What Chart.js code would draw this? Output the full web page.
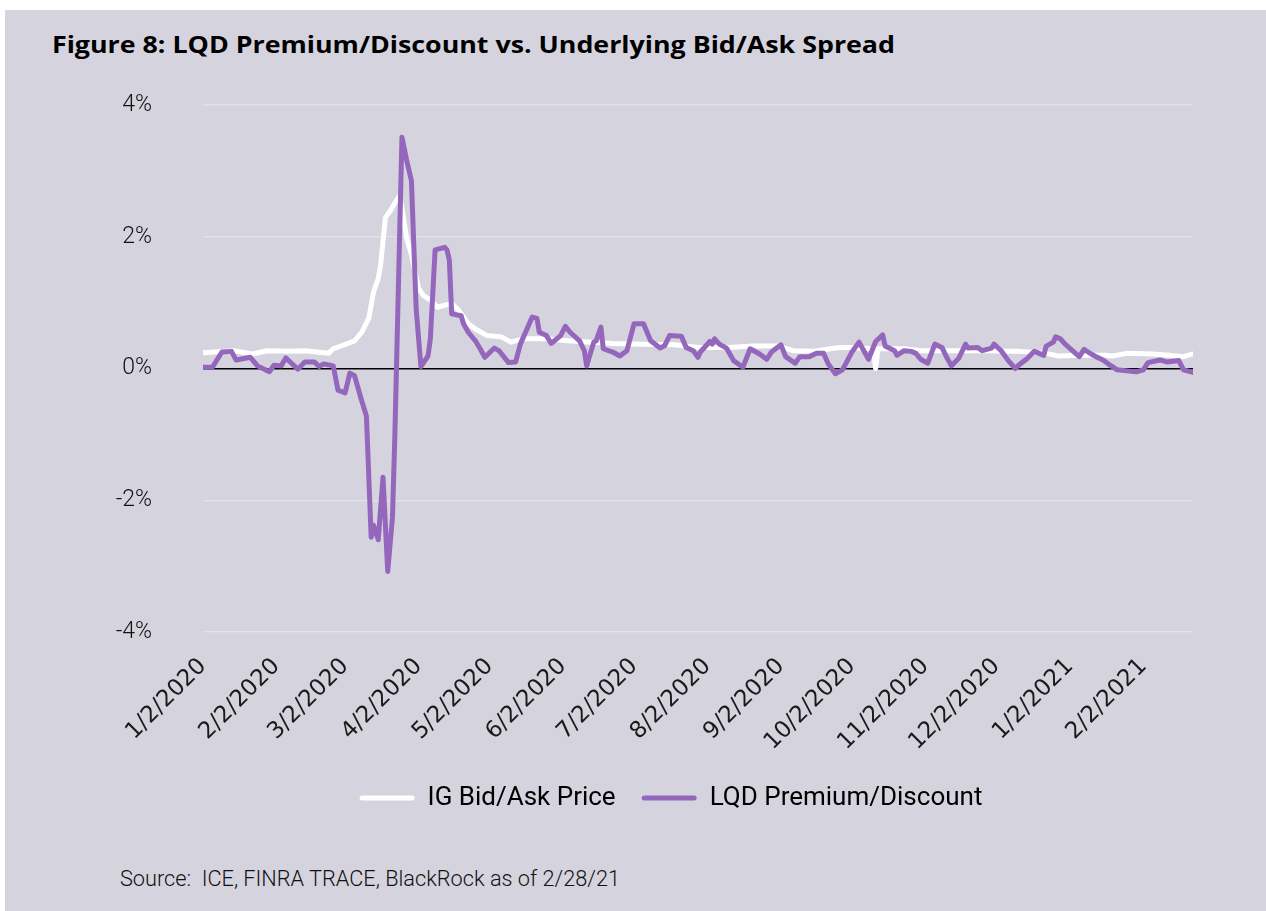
<!DOCTYPE html>
<html><head><meta charset="utf-8">
<script src="https://cdn.jsdelivr.net/npm/chart.js@4.4.1/dist/chart.umd.min.js"></script>
<style>
html,body{margin:0;padding:0;background:#fff;width:1266px;height:911px;overflow:hidden;}
#panel{position:absolute;left:5px;top:10px;right:0;bottom:0;background:#d5d4de;}
#title{position:absolute;left:52px;top:30px;font-family:'Open Sans';font-weight:700;font-size:23px;color:#000;white-space:pre;transform-origin:0 0;line-height:1.3;}
#source{position:absolute;left:120px;top:866px;font-family:Roboto;font-weight:300;font-size:22px;color:#111;white-space:pre;transform-origin:0 0;line-height:1.2;}
#wrap{position:absolute;left:0;top:0;width:1266px;height:911px;}
</style></head><body>
<div id="panel"></div>
<div id="title">Figure 8: LQD Premium/Discount vs. Underlying Bid/Ask Spread</div>
<div id="source">Source:  ICE, FINRA TRACE, BlackRock as of 2/28/21</div>
<div id="wrap"><canvas id="c" width="1266" height="911"></canvas></div>
<script>
const seriesNames = ['IG Bid/Ask Price', 'LQD Premium/Discount'];
const startDate = '2020-01-02';
const endDate = '2021-02-23';
const tickDates = ['2020-01-02','2020-02-02','2020-03-02','2020-04-02','2020-05-02','2020-06-02','2020-07-02','2020-08-02','2020-09-02','2020-10-02','2020-11-02','2020-12-02','2021-01-02','2021-02-02'];
const tickLabels = ['1/2/2020','2/2/2020','3/2/2020','4/2/2020','5/2/2020','6/2/2020','7/2/2020','8/2/2020','9/2/2020','10/2/2020','11/2/2020','12/2/2020','1/2/2021','2/2/2021'];
const yMin = -4, yMax = 4, yStep = 2;

const igDates = ['2020-01-02','2020-01-15','2020-01-23','2020-01-29','2020-02-07','2020-02-14','2020-02-24','2020-02-26','2020-03-01','2020-03-06','2020-03-09','2020-03-12','2020-03-14','2020-03-16','2020-03-17','2020-03-19','2020-03-21','2020-03-24','2020-03-25','2020-03-26','2020-03-28','2020-03-30','2020-04-02','2020-04-04','2020-04-07','2020-04-10','2020-04-16','2020-04-19','2020-04-23','2020-04-26','2020-05-01','2020-05-07','2020-05-10','2020-05-11','2020-05-16','2020-05-26','2020-06-04','2020-06-09','2020-06-23','2020-07-05','2020-07-19','2020-07-29','2020-08-11','2020-08-21','2020-09-01','2020-09-07','2020-09-15','2020-09-23','2020-09-27','2020-10-02','2020-10-10','2020-10-11','2020-10-12','2020-10-13','2020-10-14','2020-10-24','2020-10-31','2020-11-14','2020-11-28','2020-12-07','2020-12-12','2020-12-23','2020-12-28','2021-01-09','2021-01-17','2021-01-20','2021-01-26','2021-02-06','2021-02-13','2021-02-19','2021-02-23'];
const igValues = [0.24,0.27,0.22,0.27,0.26,0.27,0.23,0.30,0.35,0.42,0.55,0.76,1.16,1.37,1.57,2.29,2.39,2.57,2.62,2.44,1.98,1.73,1.22,1.11,1.04,0.93,0.99,0.88,0.68,0.60,0.50,0.48,0.42,0.40,0.45,0.45,0.42,0.41,0.38,0.37,0.36,0.32,0.32,0.34,0.34,0.27,0.26,0.30,0.32,0.32,0.30,0.30,0.00,0.30,0.30,0.30,0.27,0.27,0.27,0.26,0.26,0.23,0.19,0.20,0.20,0.19,0.23,0.22,0.20,0.18,0.22];

const lqdDates = ['2020-01-02','2020-01-06','2020-01-10','2020-01-14','2020-01-16','2020-01-22','2020-01-25','2020-01-30','2020-02-01','2020-02-04','2020-02-06','2020-02-11','2020-02-14','2020-02-18','2020-02-20','2020-02-22','2020-02-26','2020-02-28','2020-03-02','2020-03-04','2020-03-06','2020-03-09','2020-03-11','2020-03-13','2020-03-14','2020-03-16','2020-03-18','2020-03-20','2020-03-22','2020-03-23','2020-03-26','2020-03-28','2020-03-30','2020-04-01','2020-04-03','2020-04-06','2020-04-07','2020-04-09','2020-04-13','2020-04-14','2020-04-15','2020-04-16','2020-04-20','2020-04-21','2020-04-23','2020-04-26','2020-04-28','2020-04-30','2020-05-04','2020-05-06','2020-05-10','2020-05-13','2020-05-15','2020-05-20','2020-05-22','2020-05-23','2020-05-26','2020-05-28','2020-06-01','2020-06-03','2020-06-05','2020-06-09','2020-06-11','2020-06-12','2020-06-15','2020-06-16','2020-06-18','2020-06-19','2020-06-23','2020-06-26','2020-06-29','2020-07-02','2020-07-06','2020-07-09','2020-07-13','2020-07-15','2020-07-17','2020-07-22','2020-07-24','2020-07-27','2020-07-29','2020-07-30','2020-08-03','2020-08-04','2020-08-05','2020-08-07','2020-08-10','2020-08-13','2020-08-17','2020-08-20','2020-08-24','2020-08-27','2020-08-29','2020-09-02','2020-09-04','2020-09-08','2020-09-10','2020-09-14','2020-09-17','2020-09-20','2020-09-22','2020-09-25','2020-09-28','2020-10-02','2020-10-05','2020-10-09','2020-10-12','2020-10-15','2020-10-16','2020-10-20','2020-10-21','2020-10-24','2020-10-27','2020-10-29','2020-10-31','2020-11-03','2020-11-06','2020-11-09','2020-11-11','2020-11-13','2020-11-16','2020-11-19','2020-11-20','2020-11-24','2020-11-26','2020-11-30','2020-12-01','2020-12-04','2020-12-07','2020-12-10','2020-12-12','2020-12-15','2020-12-18','2020-12-22','2020-12-23','2020-12-26','2020-12-27','2020-12-29','2020-12-31','2021-01-06','2021-01-08','2021-01-11','2021-01-13','2021-01-16','2021-01-19','2021-01-22','2021-01-27','2021-01-30','2021-02-02','2021-02-04','2021-02-09','2021-02-12','2021-02-17','2021-02-19','2021-02-23'];
const lqdValues = [0.02,0.02,0.25,0.26,0.13,0.17,0.04,-0.05,0.05,0.04,0.16,-0.01,0.10,0.10,0.03,0.07,0.04,-0.33,-0.37,-0.07,-0.11,-0.49,-0.72,-2.56,-2.38,-2.60,-1.65,-3.08,-2.26,-1.03,3.51,3.16,2.85,0.91,0.03,0.19,0.45,1.80,1.84,1.80,1.65,0.83,0.80,0.68,0.55,0.42,0.30,0.17,0.31,0.27,0.09,0.10,0.37,0.78,0.76,0.55,0.50,0.38,0.50,0.64,0.55,0.42,0.27,0.04,0.40,0.42,0.63,0.30,0.25,0.19,0.27,0.68,0.68,0.42,0.31,0.35,0.50,0.49,0.32,0.27,0.17,0.25,0.41,0.37,0.45,0.37,0.31,0.12,0.02,0.30,0.22,0.14,0.25,0.36,0.18,0.08,0.18,0.18,0.23,0.23,0.07,-0.08,-0.02,0.25,0.40,0.14,0.41,0.51,0.34,0.27,0.20,0.27,0.26,0.23,0.14,0.08,0.37,0.32,0.17,0.04,0.15,0.37,0.31,0.32,0.27,0.31,0.37,0.27,0.12,0.00,0.07,0.15,0.26,0.20,0.34,0.40,0.48,0.45,0.37,0.18,0.29,0.22,0.18,0.13,0.05,-0.02,-0.04,-0.05,-0.02,0.09,0.13,0.10,0.12,-0.02,-0.06];

const colors = {ig: '#ffffff', lqd: '#9467bd'};
const legendCenterX = 671;

function dayIndex(s) {
  const [y, m, d] = s.split('-').map(Number);
  const [y0, m0, d0] = startDate.split('-').map(Number);
  return (Date.UTC(y, m - 1, d) - Date.UTC(y0, m0 - 1, d0)) / 86400000;
}
function toPoints(dates, values) { return dates.map((d, i) => ({x: dayIndex(d), y: values[i]})); }

function fitText(id, target) {
  const el = document.getElementById(id);
  const w = el.getBoundingClientRect().width;
  el.style.transform = 'scaleX(' + (target / w) + ')';
}
fitText('title', 843);
fitText('source', 500);

const legendShift = {
  id: 'legendShift',
  afterLayout(chart) {
    const l = chart.legend;
    if (!l) return;
    const dx = legendCenterX - (l.left + l.right) / 2;
    l.left += dx; l.right += dx;
  }
};

new Chart(document.getElementById('c'), {
  type: 'line',
  plugins: [legendShift],
  data: {
    datasets: [
      {label: seriesNames[0], data: toPoints(igDates, igValues), borderColor: colors.ig, backgroundColor: colors.ig, borderWidth: 5, pointRadius: 0, tension: 0, order: 2, borderJoinStyle: 'round', borderCapStyle: 'round'},
      {label: seriesNames[1], data: toPoints(lqdDates, lqdValues), borderColor: colors.lqd, backgroundColor: colors.lqd, borderWidth: 5, pointRadius: 0, tension: 0, order: 1, borderJoinStyle: 'round', borderCapStyle: 'round'}
    ]
  },
  options: {
    responsive: false,
    animation: false,
    devicePixelRatio: 1,
    layout: {padding: {left: 60, right: 73, top: 105, bottom: 90}},
    plugins: {
      tooltip: {enabled: false},
      legend: {
        position: 'bottom',
        labels: {
          font: {family: 'Roboto', size: 26},
          color: '#111',
          boxWidth: 55,
          boxHeight: 5,
          padding: 26,
          useBorderRadius: true,
          borderRadius: 2.5,
          generateLabels: (chart) => chart.data.datasets.map((ds, i) => ({
            text: ds.label, fillStyle: ds.borderColor, strokeStyle: ds.borderColor,
            lineWidth: 0, hidden: false, datasetIndex: i, borderRadius: 2.5
          }))
        }
      }
    },
    scales: {
      x: {
        type: 'linear',
        min: 0,
        max: dayIndex(endDate),
        afterBuildTicks: (s) => { s.ticks = tickDates.map(d => ({value: dayIndex(d)})); },
        afterFit: (s) => { s.height = 127; },
        grid: {display: false},
        border: {display: false},
        ticks: {
          autoSkip: false, maxRotation: 45, minRotation: 45, padding: 13,
          font: {family: 'DejaVu Sans', size: 23}, color: '#1a1a1a',
          callback: (v, i) => tickLabels[i]
        }
      },
      y: {
        min: yMin, max: yMax,
        afterFit: (s) => { s.width = 143; },
        border: {display: false},
        grid: {
          drawTicks: false,
          color: (ctx) => ctx.tick && ctx.tick.value === 0 ? '#000000' : '#e2e2e6',
          lineWidth: (ctx) => ctx.tick && ctx.tick.value === 0 ? 1.5 : 1.2
        },
        ticks: {
          stepSize: yStep, padding: 51,
          font: {family: 'Roboto', size: 23, weight: '300'}, color: '#111',
          callback: (v) => v + '%'
        }
      }
    }
  }
});
</script>
</body></html>
